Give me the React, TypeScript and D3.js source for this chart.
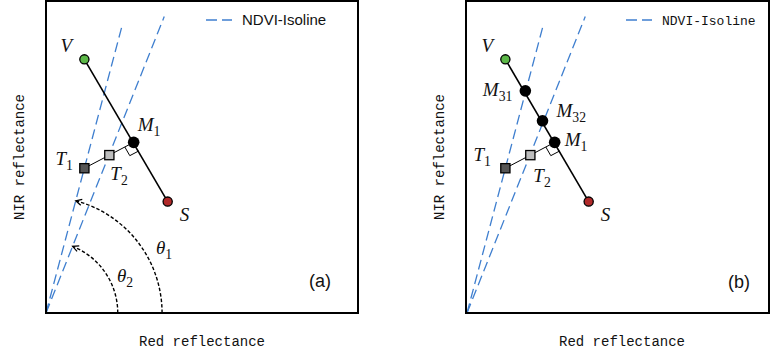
import React from "react";
import * as d3 from "d3";

// ---- data (unit = fraction of the panel's data range) ----
const pointNames = ["V", "S", "M1", "T1", "T2"];
const pointX = [0.123, 0.39, 0.281, 0.123, 0.203];
const pointY = [0.813, 0.357, 0.547, 0.464, 0.506];
const pointFill = ["#5cb848", "#b12a2a", "#000000", "#555555", "#bdbdbd"];
const extraNames = ["M31", "M32"];
const extraX = [0.187, 0.242];
const extraY = [0.712, 0.616];
const isoEndX = [0.246, 0.379];
const isoEndY = [0.929, 0.95];
const thetaRadius = [0.372, 0.23];
const legendLabel = "NDVI-Isoline";
const xLabel = "Red reflectance";
const yLabel = "NIR reflectance";

const MATH = "'Liberation Serif', 'DejaVu Serif', serif";
const MONO = "'Liberation Mono', 'DejaVu Sans Mono', monospace";
const SANS = "'Liberation Sans', 'DejaVu Sans', sans-serif";
const ISO = "#3f7fcf";

function Sub({ base, sub, x, y, anchor = "start", size = 19 }: any) {
  return (
    <text x={x} y={y} fontFamily={MATH} fontStyle="italic" fontSize={size} textAnchor={anchor} fill="#111">
      {base}
      <tspan fontStyle="normal" fontSize={size * 0.72} dy={5}>{sub}</tspan>
    </text>
  );
}

function Panel({ frameX, frameW, originX, panel }: any) {
  const top = 1;
  const bottom = 313;
  const x = d3.scaleLinear().domain([0, 1]).range([originX, originX + 312]);
  const y = d3.scaleLinear().domain([0, 1]).range([bottom, top]);
  const idx = (n: string) => pointNames.indexOf(n);
  const P = (n: string) => [x(pointX[idx(n)]), y(pointY[idx(n)])];
  const [vx, vy] = P("V");
  const [sx, sy] = P("S");
  const [mx, my] = P("M1");
  const [t1x, t1y] = P("T1");
  const [t2x, t2y] = P("T2");
  const line = d3.line();

  // right angle marker
  const uvs = [sx - mx, sy - my];
  const lvs = Math.hypot(uvs[0], uvs[1]);
  const u1 = [uvs[0] / lvs, uvs[1] / lvs];
  const ut = [t2x - mx, t2y - my];
  const lt = Math.hypot(ut[0], ut[1]);
  const u2 = [ut[0] / lt, ut[1] / lt];
  const s = 10;
  const ra = [
    [mx + s * u2[0], my + s * u2[1]],
    [mx + s * u2[0] + s * u1[0], my + s * u2[1] + s * u1[1]],
    [mx + s * u1[0], my + s * u1[1]],
  ] as [number, number][];

  const cx = x(0);
  const cy = y(0);
  const arcs = thetaRadius.map((r, i) => {
    const ang = Math.atan2(isoEndY[i], isoEndX[i]);
    const rp = x(r) - x(0);
    const p = d3.path();
    p.moveTo(cx + rp, cy);
    p.arc(cx, cy, rp, 0, -ang, true);
    return p.toString();
  });

  const isA = panel === "a";
  return (
    <g>
      {isoEndX.map((ex, i) => (
        <path key={"iso" + i} d={line([[x(0), y(0)], [x(ex), y(isoEndY[i])]]) || ""} stroke={ISO} strokeWidth={1.3} strokeDasharray="10,5" fill="none" />
      ))}
      {/* legend */}
      <line x1={frameX + 160} x2={frameX + 186} y1={20} y2={20} stroke={ISO} strokeWidth={1.5} strokeDasharray="11,5" />
      <text x={frameX + 196} y={25} fontFamily={isA ? SANS : MONO} fontSize={isA ? 15 : 13} fill="#111">{legendLabel}</text>

      {/* V-S line */}
      <path d={line([[vx, vy], [sx, sy]]) || ""} stroke="#000" strokeWidth={1.6} fill="none" />
      {/* T1-T2-M1 */}
      <path d={line([[t1x, t1y], [mx, my]]) || ""} stroke="#000" strokeWidth={1} fill="none" />
      <path d={line(ra) || ""} stroke="#000" strokeWidth={1} fill="none" />

      {isA && arcs.map((d, i) => (
        <path key={"arc" + i} d={d} stroke="#000" strokeWidth={1.4} strokeDasharray="3.5,2" fill="none" markerEnd="url(#arrowHead)" />
      ))}

      {!isA && extraNames.map((n, i) => (
        <circle key={n} cx={x(extraX[i])} cy={y(extraY[i])} r={5.8} fill="#000" />
      ))}

      {["V", "S"].map((n) => (
        <circle key={n} cx={P(n)[0]} cy={P(n)[1]} r={4.6} fill={pointFill[idx(n)]} stroke="#000" strokeWidth={1.3} />
      ))}
      <circle cx={mx} cy={my} r={5.8} fill="#000" />
      {["T1", "T2"].map((n) => (
        <rect key={n} x={P(n)[0] - 4.6} y={P(n)[1] - 4.6} width={9.2} height={9.2} fill={pointFill[idx(n)]} stroke="#000" strokeWidth={1.3} />
      ))}

      {/* labels */}
      <text x={vx - 18} y={vy - 7} fontFamily={MATH} fontStyle="italic" fontSize={19} textAnchor="middle" fill="#111">V</text>
      <text x={sx + 12} y={sy + 19} fontFamily={MATH} fontStyle="italic" fontSize={19} fill="#111">S</text>
      {isA ? (
        <>
          <Sub base="M" sub="1" x={mx + 4} y={my - 11} />
          <Sub base="T" sub="1" x={t1x - 29} y={t1y - 3} />
          <Sub base="T" sub="2" x={t2x + 1} y={t2y + 25} />
          <Sub base="θ" sub="1" x={cx + 110} y={cy - 59} />
          <Sub base="θ" sub="2" x={cx + 71} y={cy - 31} />
          <text x={frameX + 263} y={287} fontFamily={SANS} fontSize={18} fill="#111">(a)</text>
        </>
      ) : (
        <>
          <Sub base="M" sub="1" x={mx + 10} y={my + 4} />
          <Sub base="M" sub="31" x={x(extraX[0]) - 13} y={y(extraY[0]) + 5} anchor="end" />
          <Sub base="M" sub="32" x={x(extraX[1]) + 14} y={y(extraY[1]) - 4} />
          <Sub base="T" sub="1" x={t1x - 32} y={t1y - 7} />
          <Sub base="T" sub="2" x={t2x + 3} y={t2y + 27} />
          <text x={frameX + 262} y={288} fontFamily={SANS} fontSize={18} fill="#111">(b)</text>
        </>
      )}

      {/* frame */}
      <rect x={frameX} y={top} width={frameW} height={bottom - top} fill="none" stroke="#000" strokeWidth={2} />

      {/* axis labels */}
      <text x={frameX + 156} y={346} fontFamily={MONO} fontSize={14} textAnchor="middle" fill="#111">{xLabel}</text>
      <text transform={`translate(${frameX - 26},157) rotate(-90)`} fontFamily={MONO} fontSize={14} textAnchor="middle" dominantBaseline="middle" fill="#111">{yLabel}</text>
    </g>
  );
}

export default function App() {
  return (
    <svg width={771} height={353} style={{ position: "absolute", left: 0, top: 0, background: "#fff" }}>
      <defs>
        <marker id="arrowHead" markerUnits="userSpaceOnUse" markerWidth={10} markerHeight={10} refX={7} refY={4} orient="auto">
          <path d="M1,1 L7,4 L1,7" fill="none" stroke="#000" strokeWidth={1.2} />
        </marker>
      </defs>
      <rect width={771} height={353} fill="#fff" />
      <Panel frameX={46} frameW={312} originX={46} panel="a" />
      <Panel frameX={466} frameW={303} originX={467} panel="b" />
    </svg>
  );
}
